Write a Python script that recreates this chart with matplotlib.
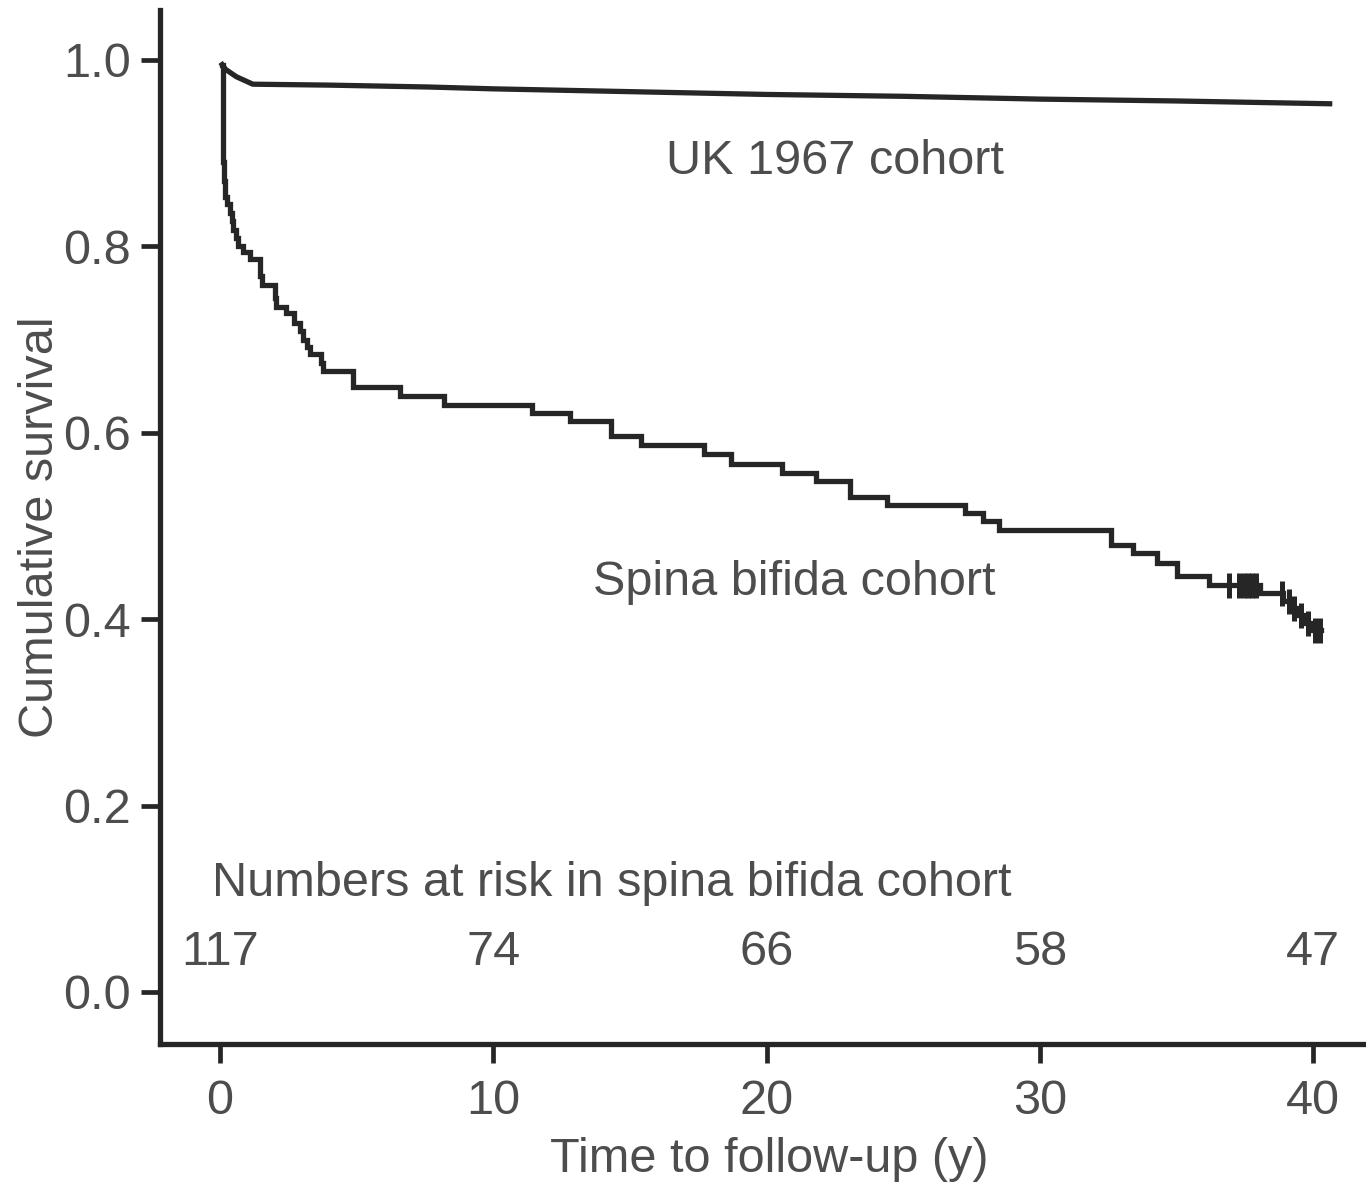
import numpy as np
import matplotlib
matplotlib.use("Agg")
import matplotlib.pyplot as plt

plt.rcParams['font.family'] = ['Liberation Sans', 'DejaVu Sans']

# Kaplan-Meier estimate for the spina bifida cohort (event times in years, survival after each event)
sb_times = [0.08, 0.1, 0.12, 0.15, 0.18, 0.26, 0.37, 0.43, 0.48, 0.57, 0.66, 0.85, 1.1,
            1.46, 1.55, 2.0, 2.05, 2.4, 2.7, 2.93, 3.05, 3.2, 3.3, 3.7, 3.77,
            4.87, 6.6, 8.2, 11.4, 12.8, 14.3, 15.4, 17.7, 18.7, 20.55, 21.8, 23.05,
            24.4, 27.25, 27.9, 28.5, 32.6, 33.4, 34.3, 35.0, 36.2, 38.05, 38.9,
            39.2, 39.45, 39.7, 39.95]
sb_surv = [0.995, 0.93, 0.89, 0.87, 0.853, 0.845, 0.836, 0.827, 0.818, 0.809, 0.800, 0.794, 0.786,
           0.768, 0.759, 0.745, 0.735, 0.728, 0.718, 0.709, 0.700, 0.692, 0.684, 0.675, 0.666,
           0.6495, 0.639, 0.630, 0.6216, 0.613, 0.597, 0.587, 0.577, 0.5665, 0.557, 0.548, 0.531,
           0.522, 0.514, 0.505, 0.496, 0.480, 0.471, 0.460, 0.446, 0.437, 0.428, 0.420,
           0.412, 0.404, 0.396, 0.388]
sb_end = 40.3
censor_times = [36.9, 37.3, 37.45, 37.6, 37.75, 37.9, 38.85, 39.1, 39.3, 39.55, 39.8, 40.05, 40.25]

# Reference population survival (UK 1967 birth cohort)
uk_times = [0.08, 0.2, 0.6, 1.2, 4.0, 7.6, 10, 15, 20, 25, 30, 35, 40.6]
uk_surv = [0.995, 0.99, 0.982, 0.974, 0.973, 0.971, 0.969, 0.966, 0.963, 0.961, 0.958, 0.956, 0.953]

# Numbers at risk
risk_times = [0, 10, 20, 30, 40]
risk_counts = [117, 74, 66, 58, 47]

x_ticks = [0, 10, 20, 30, 40]
y_ticks = [0.0, 0.2, 0.4, 0.6, 0.8, 1.0]

line_col = '#262626'
text_col = '#4d4d4d'
fs = 35
lw = 3.8

fig = plt.figure(figsize=(13.66, 11.83), dpi=100)
ax = fig.add_axes([160 / 1366, (1183 - 1044) / 1183, 1 - 160 / 1366, (1044 - 10) / 1183])

# Survival curves
t_step = list(sb_times) + [sb_end]
s_step = list(sb_surv) + [sb_surv[-1]]
ax.step(t_step, s_step, where='post', color=line_col, lw=lw, solid_joinstyle='miter')
ax.plot(uk_times, uk_surv, color=line_col, lw=lw)

# Censoring marks on the spina bifida curve
idx = np.searchsorted(sb_times, censor_times, side='right') - 1
censor_surv = np.asarray(sb_surv)[idx]
ax.plot(censor_times, censor_surv, ls='none', marker='|', ms=18, mew=3.6, color=line_col)

# Curve labels
ax.text(22.5, 0.891, 'UK 1967 cohort', fontsize=fs, color=text_col, ha='center', va='center')
ax.text(21.0, 0.439, 'Spina bifida cohort', fontsize=fs, color=text_col, ha='center', va='center')

# Numbers-at-risk table
ax.text(-0.3, 0.116, 'Numbers at risk in spina bifida cohort', fontsize=fs, color=text_col,
        ha='left', va='center')
for t, n in zip(risk_times, risk_counts):
    ax.text(t, 0.042, str(n), fontsize=fs, color=text_col, ha='center', va='center')

ax.set_xlim(-2.195, 41.93)
ax.set_ylim(-0.0558, 1.0536)
ax.set_xticks(x_ticks)
ax.set_xticklabels([str(v) for v in x_ticks])
ax.set_yticks(y_ticks)
ax.set_yticklabels([f'{v:.1f}' for v in y_ticks])

for side in ('top', 'right'):
    ax.spines[side].set_visible(False)
for side in ('left', 'bottom'):
    ax.spines[side].set_linewidth(lw)
    ax.spines[side].set_color(line_col)

ax.tick_params(axis='both', which='major', direction='out', length=14, width=3.4,
               color=line_col, labelsize=fs, labelcolor=text_col)
ax.tick_params(axis='x', pad=11)
ax.tick_params(axis='y', pad=7)

ax.set_xlabel('Time to follow-up (y)', fontsize=fs, color=text_col)
ax.xaxis.label.set_va('center')
ax.xaxis.set_label_coords(0.505, -0.112)
ax.set_ylabel('Cumulative survival', fontsize=fs, color=text_col)
ax.yaxis.label.set_va('center')
ax.yaxis.set_label_coords(-0.0995, 0.5)

fig.savefig('out.png', dpi=100)
